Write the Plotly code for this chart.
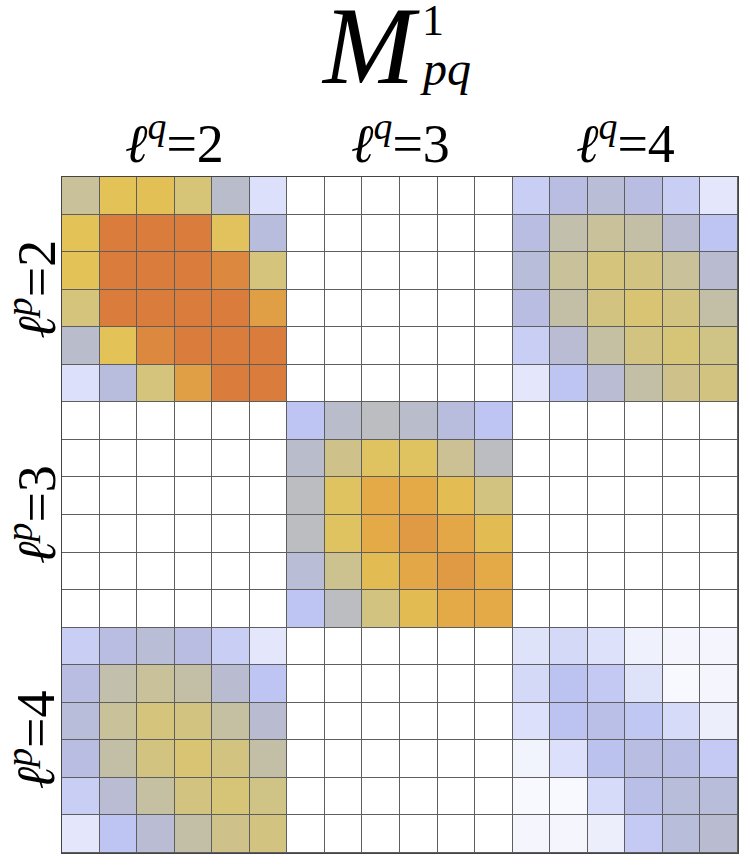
import numpy as np
import plotly.graph_objects as go

# ---- data, blocks of M^1_pq, values normalised 0..1 ----
block_22 = [
    [0.60, 0.74, 0.75, 0.67, 0.50, 0.20],
    [0.74, 1.00, 1.00, 1.00, 0.73, 0.43],
    [0.74, 1.00, 1.00, 1.00, 0.96, 0.66],
    [0.66, 1.00, 1.00, 1.00, 1.00, 0.88],
    [0.50, 0.74, 0.96, 1.00, 1.00, 1.00],
    [0.20, 0.43, 0.66, 0.88, 1.00, 1.00],
]
block_24 = [
    [0.30, 0.42, 0.46, 0.42, 0.30, 0.15],
    [0.42, 0.56, 0.60, 0.57, 0.48, 0.35],
    [0.45, 0.60, 0.66, 0.65, 0.60, 0.48],
    [0.42, 0.57, 0.65, 0.68, 0.65, 0.57],
    [0.30, 0.47, 0.58, 0.65, 0.67, 0.64],
    [0.15, 0.35, 0.47, 0.57, 0.63, 0.65],
]
block_42 = [
    [0.30, 0.42, 0.46, 0.42, 0.30, 0.15],
    [0.42, 0.56, 0.60, 0.57, 0.48, 0.35],
    [0.45, 0.60, 0.66, 0.65, 0.58, 0.48],
    [0.42, 0.57, 0.65, 0.68, 0.65, 0.57],
    [0.30, 0.47, 0.58, 0.65, 0.67, 0.64],
    [0.15, 0.35, 0.47, 0.57, 0.63, 0.65],
]
block_33 = [
    [0.35, 0.50, 0.52, 0.50, 0.43, 0.35],
    [0.50, 0.63, 0.72, 0.72, 0.61, 0.52],
    [0.52, 0.72, 0.84, 0.84, 0.76, 0.65],
    [0.52, 0.72, 0.84, 0.90, 0.85, 0.77],
    [0.46, 0.62, 0.77, 0.85, 0.90, 0.84],
    [0.35, 0.52, 0.65, 0.77, 0.84, 0.84],
]
block_44 = [
    [0.18, 0.24, 0.19, 0.08, 0.05, 0.05],
    [0.24, 0.36, 0.33, 0.18, 0.03, 0.05],
    [0.20, 0.36, 0.40, 0.34, 0.23, 0.10],
    [0.06, 0.20, 0.37, 0.42, 0.41, 0.32],
    [0.03, 0.03, 0.23, 0.40, 0.45, 0.45],
    [0.05, 0.05, 0.10, 0.32, 0.45, 0.48],
]
block_zero = [[0.0] * 6 for _ in range(6)]

ELL = "<span style='font-family:DejaVu Serif'><i>ℓ</i></span>"
col_labels = [ELL + "<sup><i>q</i></sup>=2", ELL + "<sup><i>q</i></sup>=3", ELL + "<sup><i>q</i></sup>=4"]
row_labels = [ELL + "<sup><i>p</i></sup>=2", ELL + "<sup><i>p</i></sup>=3", ELL + "<sup><i>p</i></sup>=4"]

z = np.block([
    [np.array(block_22), np.array(block_zero), np.array(block_24)],
    [np.array(block_zero), np.array(block_33), np.array(block_zero)],
    [np.array(block_42), np.array(block_zero), np.array(block_44)],
])

colorscale = [
    [0.00, "#ffffff"],
    [0.05, "#f4f5fd"],
    [0.10, "#eceefc"],
    [0.20, "#dce0fa"],
    [0.30, "#c9cef5"],
    [0.36, "#bcc3f1"],
    [0.42, "#b8bde1"],
    [0.50, "#b9bccb"],
    [0.57, "#c3bfa7"],
    [0.66, "#d4c47c"],
    [0.74, "#e3c257"],
    [0.84, "#e4aa48"],
    [0.90, "#e09a44"],
    [1.00, "#d97c3c"],
]

n = z.shape[0]
fig = go.Figure(go.Heatmap(
    z=z, x=list(range(n)), y=list(range(n)),
    colorscale=colorscale, zmin=0, zmax=1, showscale=False,
    xgap=1, ygap=1, hoverinfo="skip",
))

W, H = 750, 867
ml, mr, mt, mb = 62, 12, 177, 14
pw, ph = W - ml - mr, H - mt - mb

def px_x(p):
    return (p - ml) / pw

def px_y(p):
    return (H - mb - p) / ph

serif = "Liberation Serif, DejaVu Serif, serif"
ann = []
for i, lab in enumerate(col_labels):
    ann.append(dict(text=lab, x=(i + 0.5) / 3, y=px_y(140), xref="paper", yref="paper",
                    showarrow=False, xanchor="center", yanchor="middle",
                    font=dict(family=serif, size=54, color="black")))
for i, lab in enumerate(row_labels):
    ann.append(dict(text=lab, x=px_x(33), y=1 - (i + 0.5) / 3, xref="paper", yref="paper",
                    showarrow=False, xanchor="center", yanchor="middle", textangle=-90,
                    font=dict(family=serif, size=54, color="black")))
# title M^1_pq
ann.append(dict(text="<i>M</i>", x=px_x(422), y=px_y(46), xref="paper", yref="paper",
                showarrow=False, xanchor="right", yanchor="middle",
                font=dict(family=serif, size=110, color="black")))
ann.append(dict(text="1", x=px_x(420), y=px_y(20), xref="paper", yref="paper",
                showarrow=False, xanchor="left", yanchor="middle",
                font=dict(family=serif, size=44, color="black")))
ann.append(dict(text="<i>pq</i>", x=px_x(418), y=px_y(68), xref="paper", yref="paper",
                showarrow=False, xanchor="left", yanchor="middle",
                font=dict(family=serif, size=48, color="black")))

fig.update_layout(
    width=W, height=H,
    margin=dict(l=ml, r=mr, t=mt, b=mb),
    paper_bgcolor="white", plot_bgcolor="#5e5e5e",
    annotations=ann,
    xaxis=dict(range=[-0.5, n - 0.5], showticklabels=False, ticks="", showgrid=False,
               zeroline=False, showline=True, linecolor="#444", linewidth=1, mirror=True),
    yaxis=dict(range=[n - 0.5, -0.5], showticklabels=False, ticks="", showgrid=False,
               zeroline=False, showline=True, linecolor="#444", linewidth=1, mirror=True),
)

fig.write_html("out.html")
